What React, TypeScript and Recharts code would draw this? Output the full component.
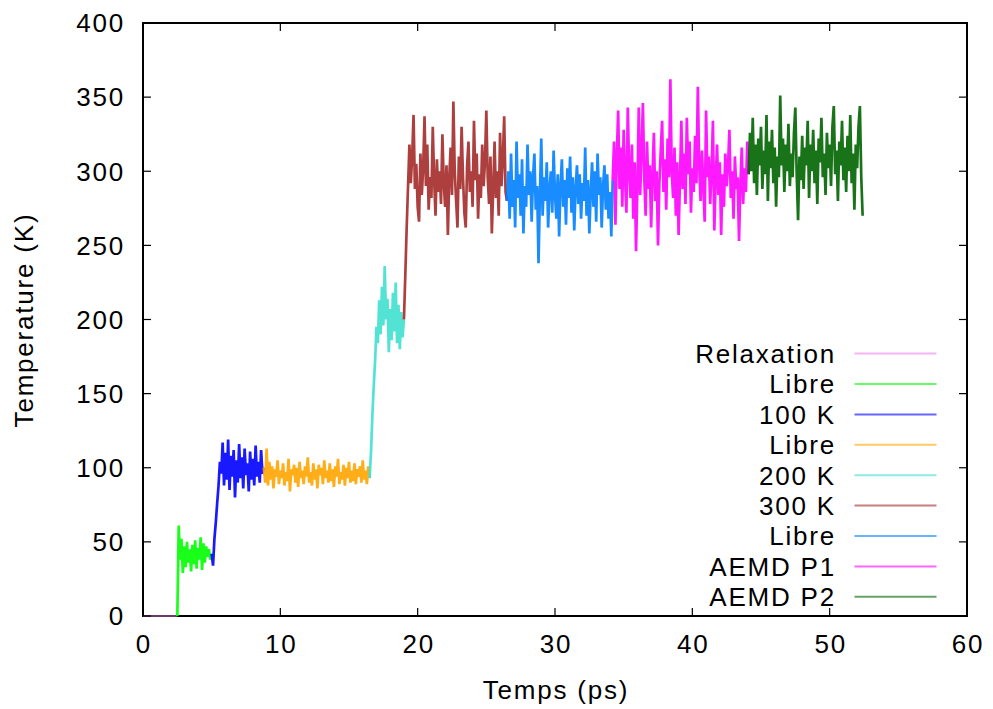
import { LineChart, Line, XAxis, YAxis, ReferenceArea } from 'recharts';

const W = 993;
const H = 709;
// plot box edges in px, matched to the reference
const PLOT = { left: 143, right: 967, top: 23, bottom: 616 };
const FONT = '"Liberation Sans", Arial, Helvetica, sans-serif';
const TEXT = { fontFamily: FONT, fontSize: 26, letterSpacing: 1.8, fill: '#000' };

const X_TICKS = [0, 10, 20, 30, 40, 50, 60];
const Y_TICKS = [0, 50, 100, 150, 200, 250, 300, 350, 400];

// temperature (K), sampled every `step` ps from `start`
const relaxation = [0, 0, 0, 0, 0, 0];

const libre1 = [0, 61, 38, 52, 29, 47, 33, 50, 36, 45, 30, 48, 35, 51, 32, 46, 38, 53, 31, 49, 36, 47, 40, 45, 38, 42];

const k100 = [
  42, 34, 52, 63, 76, 88, 104, 96, 117, 88,
  110, 92, 119, 85, 108, 94, 112, 80, 105, 90,
  116, 93, 107, 86, 113, 95, 103, 84, 111, 92,
  106, 88, 115, 94, 104, 90, 112, 96, 100,
];

const libre2 = [
  100, 90, 113, 88, 104, 92, 101, 86, 99, 94,
  105, 89, 98, 93, 103, 88, 97, 91, 106, 84,
  99, 95, 102, 90, 100, 87, 104, 93, 98, 89,
  101, 94, 107, 90, 97, 88, 103, 92, 99, 86,
  102, 95, 100, 89, 105, 93, 98, 90, 103, 91,
  99, 87, 101, 94, 106, 89, 97, 92, 102, 88,
  100, 93, 104, 90, 98, 91, 103, 89, 99, 94,
  101, 90, 105, 92, 98, 89, 101, 93,
];

const k200 = [93, 110, 135, 155, 172, 195, 184, 213, 190, 222, 196, 236, 200, 214, 178, 207, 186, 218, 192, 225, 184, 210, 180, 205, 188, 200];

const k300 = [
  200, 230, 262, 290, 318, 292, 310, 338, 288, 305,
  276, 266, 312, 284, 302, 337, 290, 318, 274, 296,
  282, 330, 294, 270, 308, 286, 300, 278, 325, 292,
  276, 304, 257, 296, 316, 284, 347, 300, 280, 262,
  310, 288, 330, 296, 272, 262, 304, 320, 286, 300,
  276, 334, 294, 312, 268, 298, 282, 318, 290, 306,
  341, 296, 278, 310, 258, 288, 320, 282, 300, 270,
  326, 290, 308, 337, 286, 280,
];

const libre3 = [
  280, 300, 268, 312, 276, 294, 262, 320, 282, 298,
  270, 308, 258, 290, 276, 318, 284, 300, 266, 296,
  312, 274, 290, 238, 284, 322, 270, 296, 280, 306,
  262, 288, 300, 272, 314, 284, 268, 298, 256, 290,
  308, 276, 294, 264, 302, 282, 310, 272, 296, 260,
  288, 304, 278, 298, 268, 292, 280, 316, 270, 294,
  258, 286, 306, 276, 300, 266, 312, 284, 296, 262,
  290, 304, 274, 298, 268, 286, 256, 294,
];

const aemdP1 = [
  294, 320, 264, 310, 341, 288, 316, 276, 328, 296,
  272, 343, 300, 282, 318, 268, 306, 246, 290, 343,
  284, 312, 346, 296, 270, 320, 288, 304, 262, 298,
  326, 280, 300, 250, 292, 314, 334, 286, 308, 274,
  322, 296, 362, 300, 282, 316, 270, 306, 257, 294,
  334, 288, 312, 278, 336, 298, 320, 272, 302, 286,
  324, 292, 357, 304, 280, 314, 290, 266, 341, 296,
  310, 278, 300, 334, 260, 294, 318, 284, 306, 257,
  298, 276, 312, 290, 304, 328, 282, 300, 268, 310,
  288, 296, 253, 292, 316, 278, 302, 286, 320, 298,
];

const aemdP2 = [
  298, 326, 300, 336, 292, 318, 284, 322, 304, 330,
  288, 314, 298, 338, 280, 320, 302, 328, 292, 316,
  276, 310, 296, 351, 304, 322, 286, 318, 300, 332,
  290, 312, 296, 326, 343, 298, 267, 310, 294, 324,
  288, 316, 304, 334, 282, 318, 300, 328, 292, 314,
  278, 322, 306, 336, 296, 312, 284, 326, 302, 318,
  290, 330, 344, 298, 314, 280, 320, 304, 334, 294,
  316, 286, 324, 300, 338, 292, 312, 274, 318, 302,
  330, 344, 296, 270,
];

const SERIES = [
  { name: 'Relaxation', color: '#ee82ee', start: 0, step: 0.5, values: relaxation },
  { name: 'Libre', color: '#00ff00', start: 2.5, step: 0.1, values: libre1 },
  { name: '100 K', color: '#0000ff', start: 5.0, step: 0.1, values: k100 },
  { name: 'Libre', color: '#ffa500', start: 8.8, step: 0.1, values: libre2 },
  { name: '200 K', color: '#40e0d0', start: 16.5, step: 0.1, values: k200 },
  { name: '300 K', color: '#a52a2a', start: 19.0, step: 0.1, values: k300 },
  { name: 'Libre', color: '#0080ff', start: 26.5, step: 0.1, values: libre3 },
  { name: 'AEMD P1', color: '#ff00ff', start: 34.2, step: 0.1, values: aemdP1 },
  { name: 'AEMD P2', color: '#006400', start: 44.1, step: 0.1, values: aemdP2 },
];

function toPoints(start: number, step: number, values: number[]) {
  return values.map((T, i) => ({ t: Math.round((start + i * step) * 1000) / 1000, T }));
}

function XTick({ x, payload }: any) {
  return (
    <g>
      <line x1={x} x2={x} y1={PLOT.bottom} y2={PLOT.bottom - 8} stroke="#000" strokeWidth={1.2} />
      <line x1={x} x2={x} y1={PLOT.top} y2={PLOT.top + 8} stroke="#000" strokeWidth={1.2} />
      <text x={x + 1} y={653} textAnchor="middle" {...TEXT}>
        {payload.value}
      </text>
    </g>
  );
}

function YTick({ y, payload }: any) {
  return (
    <g>
      <line x1={PLOT.left} x2={PLOT.left + 8} y1={y} y2={y} stroke="#000" strokeWidth={1.2} />
      <line x1={PLOT.right - 8} x2={PLOT.right} y1={y} y2={y} stroke="#000" strokeWidth={1.2} />
      <text x={125} y={y + 9.3} textAnchor="end" {...TEXT}>
        {payload.value}
      </text>
    </g>
  );
}

export default function App() {
  return (
    <div style={{ position: 'relative', width: W, height: H, background: '#fff', fontFamily: FONT }}>
      <style>{'body{margin:0}'}</style>
      <LineChart
        width={W}
        height={H}
        margin={{ top: PLOT.top, right: W - PLOT.right, bottom: 0, left: 0 }}
      >
        <XAxis
          dataKey="t"
          type="number"
          domain={[0, 60]}
          ticks={X_TICKS}
          interval={0}
          height={H - PLOT.bottom}
          axisLine={false}
          tickLine={false}
          tick={<XTick />}
        />
        <YAxis
          type="number"
          domain={[0, 400]}
          ticks={Y_TICKS}
          interval={0}
          width={PLOT.left}
          axisLine={false}
          tickLine={false}
          tick={<YTick />}
        />
        {SERIES.map((s, i) => (
          <Line
            key={i}
            data={toPoints(s.start, s.step, s.values)}
            dataKey="T"
            name={s.name}
            type="linear"
            stroke={s.color}
            strokeWidth={i === 0 ? 1.5 : 2.7}
            strokeOpacity={i === 0 ? 0.6 : 0.9}
            strokeLinejoin="miter"
            dot={false}
            activeDot={false}
            isAnimationActive={false}
          />
        ))}
        <ReferenceArea x1={0} x2={60} y1={0} y2={400} fill="none" stroke="#000" strokeWidth={2} />
      </LineChart>
      <svg
        width={W}
        height={H}
        style={{ position: 'absolute', left: 0, top: 0, pointerEvents: 'none' }}
      >
        <text x={556} y={699} textAnchor="middle" {...TEXT}>
          Temps (ps)
        </text>
        <text transform="translate(33,320) rotate(-90)" x={0} y={0} textAnchor="middle" {...TEXT}>
          Temperature (K)
        </text>
        {SERIES.map((s, i) => {
          const y = 353.6 + i * 30.4;
          return (
            <g key={i}>
              <text x={836} y={y + 9.3} textAnchor="end" {...TEXT}>
                {s.name}
              </text>
              <line x1={854.5} x2={936.5} y1={y} y2={y} stroke={s.color} strokeWidth={2} strokeOpacity={0.6} />
            </g>
          );
        })}
      </svg>
    </div>
  );
}
